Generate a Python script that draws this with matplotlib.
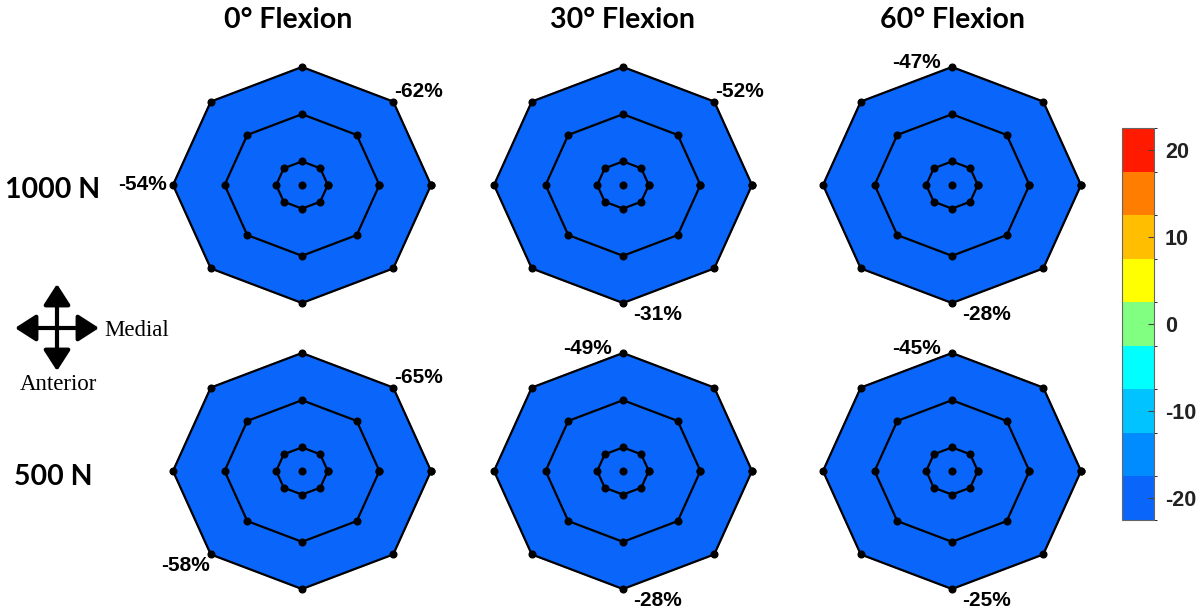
import numpy as np
import matplotlib.pyplot as plt
from matplotlib.colors import ListedColormap, BoundaryNorm
from matplotlib.colorbar import ColorbarBase

plt.rcParams['axes.unicode_minus'] = False

# layout of the figure in pixels
W, H = 1202, 613
RX, RY = 129, 118            # outer octagon radius (px) along x and y
col_x = [302, 623, 952]
row_y = [185, 471]

flexion = ['0° Flexion', '30° Flexion', '60° Flexion']
title_x = [288, 623, 952]
loads = ['1000 N', '500 N']
ring_radii = [1.0, 0.6, 0.2]

# lowest strain change per panel (row by row), used to colour the field
field_min = [-62, -52, -47, -65, -49, -45]
# labelled outer vertices: (vertex index ccw from +x, text)
labels = [
    [(1, '-62%'), (4, '-54%')],
    [(1, '-52%'), (6, '-31%')],
    [(2, '-47%'), (6, '-28%')],
    [(1, '-65%'), (5, '-58%')],
    [(2, '-49%'), (6, '-28%')],
    [(2, '-45%'), (6, '-25%')],
]

# colour bins, bottom to top
bin_colors = ['#0a66fa', '#008cff', '#00c3ff', '#00ffff', '#80ff80',
              '#ffff00', '#ffbe00', '#ff7d00', '#ff1a00']
bin_edges = np.arange(-22.5, 23, 5)
cbar_ticks = [-20, -10, 0, 10, 20]

cmap = ListedColormap(bin_colors)
cmap.set_under(bin_colors[0])
cmap.set_over(bin_colors[-1])
norm = BoundaryNorm(bin_edges, cmap.N)

# where each label sits relative to its vertex
label_pos = {
    1: ((1, 10), 'left'),
    2: ((-11, 5), 'right'),
    4: ((-6, 0), 'right'),
    5: ((-1, -11), 'right'),
    6: ((10, -12), 'left'),
}

fig = plt.figure(figsize=(W / 100, H / 100), dpi=100)

# overlay in pixel coordinates for headings and the orientation cross
ov = fig.add_axes([0, 0, 1, 1])
ov.set_xlim(0, W)
ov.set_ylim(H, 0)
ov.axis('off')

for x, t in zip(title_x, flexion):
    ov.text(x, 20, t, ha='center', va='center', fontsize=20.5,
            fontweight='bold', family='Lato')
for y, t in zip([190, 477], loads):
    ov.text(53, y, t, ha='center', va='center', fontsize=20.5,
            fontweight='bold', family='Lato')

arrow = dict(arrowstyle='<|-|>,head_length=0.7,head_width=0.45',
             lw=3, color='black', mutation_scale=18, shrinkA=0, shrinkB=0)
ov.annotate('', xy=(15, 328), xytext=(99, 328), arrowprops=arrow)
ov.annotate('', xy=(57, 284), xytext=(57, 371), arrowprops=arrow)
ov.text(104, 330, 'Medial', ha='left', va='center', fontsize=16.5,
        family='Liberation Serif')
ov.text(58, 384, 'Anterior', ha='center', va='center', fontsize=16.5,
        family='Liberation Serif')

theta = np.deg2rad(np.arange(0, 360, 45))
lim = 1.1
for i in range(6):
    r, c = divmod(i, 3)
    cx, cy = col_x[c], row_y[r]
    w, h = 2 * lim * RX, 2 * lim * RY
    ax = fig.add_axes([(cx - w / 2) / W, (H - cy - h / 2) / H, w / W, h / H])
    ax.set_xlim(-lim, lim)
    ax.set_ylim(-lim, lim)
    ax.axis('off')

    vx, vy = np.cos(theta), np.sin(theta)
    ax.fill(vx, vy, color=cmap(norm(field_min[i])), zorder=1)
    for rr in ring_radii:
        ax.plot(np.append(rr * vx, rr * vx[0]), np.append(rr * vy, rr * vy[0]),
                color='black', lw=1.6, marker='o', ms=4.8, zorder=2)
    ax.plot(0, 0, 'o', color='black', ms=4.8, zorder=3)

    for k, txt in labels[i]:
        off, ha = label_pos[k]
        ax.annotate(txt, (vx[k], vy[k]), xytext=off, textcoords='offset pixels',
                    ha=ha, va='center', fontsize=15, fontweight='bold',
                    family='Liberation Sans', annotation_clip=False)

# colour scale
cax = fig.add_axes([1122 / W, (H - 520) / H, 32 / W, 392 / H])
cb = ColorbarBase(cax, cmap=cmap, norm=norm, boundaries=bin_edges,
                  ticks=cbar_ticks)
cb.outline.set_edgecolor('#666666')
cb.outline.set_linewidth(0.8)
cax.tick_params(direction='in', length=4, width=0.8, color='#444444',
                labelsize=15.5, pad=8)
for t in cax.get_yticklabels():
    t.set_fontweight('bold')
    t.set_family('Liberation Sans')
    t.set_color('#222222')

fig.savefig('out.png', dpi=100)
